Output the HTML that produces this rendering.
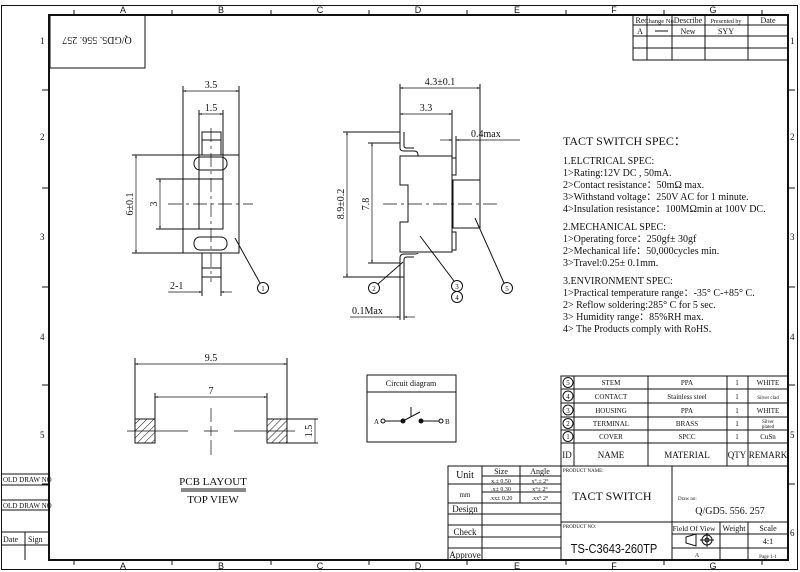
<!DOCTYPE html>
<html><head><meta charset="utf-8"><style>
html,body{margin:0;padding:0;background:#fff}
svg{display:block}
text{font-family:"Liberation Serif",serif;fill:#111}
.m{font-family:"Liberation Mono",monospace}
.s{font-family:"Liberation Sans",sans-serif}
</style></head><body>
<svg width="800" height="572" viewBox="0 0 800 572" xmlns="http://www.w3.org/2000/svg">
<defs>
<marker id="a" viewBox="0 0 10 10" refX="10" refY="5" markerWidth="6" markerHeight="4" orient="auto-start-reverse"><path d="M0,2 L10,5 L0,8 Z" fill="#111"/></marker>
<pattern id="h" width="5" height="5" patternUnits="userSpaceOnUse" patternTransform="rotate(45)"><line x1="0" y1="0" x2="0" y2="5" stroke="#111" stroke-width="1"/></pattern>
</defs>
<g fill="none" stroke="#111">
<!-- outer frame -->
<rect x="1.5" y="5.5" width="796" height="564" stroke-width="1"/>
<rect x="49" y="15" width="739" height="545" stroke-width="2"/>
<!-- ticks top/bottom -->
<g stroke-width="1">
<path d="M74 10V15M172 10V15M271 10V15M369 10V15M467 10V15M566 10V15M664 10V15M762 10V15"/>
<path d="M74 560V565M172 560V565M271 560V565M369 560V565M467 560V565M566 560V565M664 560V565M762 560V565"/>
<path d="M788 90H795M788 188H795M788 287H795M788 385H795M788 484H795"/>
<path d="M42 90H49M42 188H49M42 287H49M42 385H49M42 484H49"/>
</g>
<!-- top-left box -->
<rect x="50" y="15" width="95" height="53" stroke-width="1"/>
<!-- revision table -->
<g stroke-width="1">
<rect x="633" y="15" width="155" height="45"/>
<path d="M633 25H788M633 36H788M633 48H788"/>
<path d="M647 15V60M672 15V60M705 15V60M748 15V60"/>
<path d="M655 31H668"/>
</g>
<!-- left side panel -->
<g stroke-width="1">
<path d="M1 474H49M1 485H49M1 500H49M1 510H49M1 532H49M1 545H49M25 532V560"/>
</g>

<!-- FRONT VIEW -->
<g stroke-width="1">
<rect x="183" y="155" width="56" height="98"/>
<rect x="202" y="132" width="19" height="23"/>
<path d="M202 140H221"/>
<rect x="202" y="253" width="19" height="24"/>
<path d="M202 268H221"/>
<rect x="199" y="179" width="24" height="50"/>
<rect x="194" y="157" width="33" height="13" rx="6"/>
<rect x="194" y="237" width="33" height="13" rx="6"/>
<path d="M168 204H253" stroke-dasharray="14 4 3 4" stroke-width="0.7"/>
<path d="M211 128V282" stroke-dasharray="14 4 3 4" stroke-width="0.7"/>
<!-- dims -->
<path d="M183 155V86M239 155V86"/>
<path d="M183 91H239" marker-start="url(#a)" marker-end="url(#a)" stroke-width="0.7"/>
<path d="M199 179V110M223 179V110"/>
<path d="M199 114H223" marker-start="url(#a)" marker-end="url(#a)" stroke-width="0.7"/>
<path d="M183 155H132M183 253H132"/>
<path d="M136 155V253" marker-start="url(#a)" marker-end="url(#a)" stroke-width="0.7"/>
<path d="M199 179H156M199 229H156"/>
<path d="M160 179V229" marker-start="url(#a)" marker-end="url(#a)" stroke-width="0.7"/>
<path d="M202 277V296M221 277V296"/>
<path d="M168 292H202" marker-end="url(#a)" stroke-width="0.7"/>
<path d="M232 292H221" marker-end="url(#a)" stroke-width="0.7"/>
<path d="M235 238L260 283"/>
<circle cx="263" cy="288" r="5.5"/>
</g>

<!-- SIDE VIEW -->
<g stroke-width="1">
<path d="M400 156H452V252H400V222H408V185H400Z"/>
<path d="M452 156V252M452 158H456V175H452M452 232H456V250H452"/>
<rect x="453" y="180" width="27" height="48"/>
<path d="M400 132V148Q400 151 404 151H414Q418 151 418 155V156M404 132V146Q404 148 407 148H414"/>
<path d="M400 277V258Q400 254 404 254H414Q418 254 418 253M404 277V260Q404 257 407 257H414"/>
<path d="M383 204H500" stroke-dasharray="14 4 3 4" stroke-width="0.7"/>
<!-- dims -->
<path d="M400 132V84M480 180V84"/>
<path d="M400 88H480" marker-start="url(#a)" marker-end="url(#a)" stroke-width="0.7"/>
<path d="M452 156V110"/>
<path d="M400 114H452" marker-start="url(#a)" marker-end="url(#a)" stroke-width="0.7"/>
<path d="M456 158V136"/>
<path d="M440 140H452" marker-end="url(#a)" stroke-width="0.7"/>
<path d="M470 140H456" marker-end="url(#a)" stroke-width="0.7"/>
<path d="M456 140H520" stroke-width="0.7"/>
<path d="M400 132H343M404 277H343"/>
<path d="M347 132V277" marker-start="url(#a)" marker-end="url(#a)" stroke-width="0.7"/>
<path d="M400 143H368M400 263H368"/>
<path d="M372 143V263" marker-start="url(#a)" marker-end="url(#a)" stroke-width="0.7"/>
<path d="M400 277V320M404 277V320"/>
<path d="M350 317H400" marker-end="url(#a)" stroke-width="0.7"/>
<path d="M415 317H404" marker-end="url(#a)" stroke-width="0.7"/>
<path d="M403 262L378 284"/>
<circle cx="374" cy="288" r="5.5"/>
<path d="M420 236L454 281"/>
<circle cx="457" cy="286" r="5.5"/>
<circle cx="457" cy="297" r="5.5"/>
<path d="M475 218L504 283"/>
<circle cx="507" cy="288" r="5.5"/>
</g>

<!-- PCB LAYOUT -->
<g stroke-width="1">
<rect x="135" y="419" width="20" height="24" fill="url(#h)"/>
<rect x="267" y="419" width="20" height="24" fill="url(#h)"/>
<path d="M127 431H188M234 431H295" stroke-width="0.7"/>
<path d="M204 431H218M211 408V422M211 426V436M211 440V455" stroke-width="0.7"/>
<path d="M135 419V358M287 419V358"/>
<path d="M135 364H287" marker-start="url(#a)" marker-end="url(#a)" stroke-width="0.7"/>
<path d="M155 419V393M267 419V393"/>
<path d="M155 397H267" marker-start="url(#a)" marker-end="url(#a)" stroke-width="0.7"/>
<path d="M287 419H318M287 443H318"/>
<path d="M315 419V443" stroke-width="0.7"/>
<path d="M181 489H246M181 491H246"/>
</g>

<!-- circuit -->
<g stroke-width="1">
<rect x="367" y="375" width="89" height="67"/>
<path d="M367 392H456"/>
<circle cx="383" cy="421" r="2"/>
<path d="M385 421H403M403 421L420 412M411 407V417M421 421H439"/>
<circle cx="441" cy="421" r="2"/>
<circle cx="403" cy="421" r="2" fill="#111"/>
<circle cx="421" cy="421" r="2" fill="#111"/>
</g>

<!-- BOM -->
<g stroke-width="1">
<rect x="561" y="376" width="227" height="90"/>
<path d="M561 389H788M561 403H788M561 417H788M561 430H788M561 443H788"/>
<path d="M574 376V466M648 376V466M727 376V466M748 376V466"/>
<circle cx="568" cy="382.5" r="5"/><circle cx="568" cy="396" r="5"/><circle cx="568" cy="410" r="5"/><circle cx="568" cy="423.5" r="5"/><circle cx="568" cy="436.5" r="5"/>
</g>
<!-- title block -->
<g stroke-width="1">
<rect x="448" y="466" width="340" height="94"/>
<path d="M561 466V560M672 466V560"/>
<path d="M561 522H788M672 534H788M672 548H788M720 522V560M748 522V560"/>
<path d="M448 484H561M482 466V560M520 466V503M482 476H561M482 492H561M482 503H561"/>
<path d="M448 503H561M448 514H561M448 525H561M448 537H561M448 548H561"/>
<path d="M686 537L696 534V546L686 543Z"/>
<circle cx="707" cy="540" r="5"/><circle cx="707" cy="540" r="2"/><path d="M700 540H714M707 533V547"/>
</g>
</g>

<!-- text -->
<g font-size="10">
<text x="123" y="13" text-anchor="middle" class="s" font-size="9">A</text>
<text x="221" y="13" text-anchor="middle" class="s" font-size="9">B</text>
<text x="320" y="13" text-anchor="middle" class="s" font-size="9">C</text>
<text x="418" y="13" text-anchor="middle" class="s" font-size="9">D</text>
<text x="517" y="13" text-anchor="middle" class="s" font-size="9">E</text>
<text x="614" y="13" text-anchor="middle" class="s" font-size="9">F</text>
<text x="713" y="13" text-anchor="middle" class="s" font-size="9">G</text>
<text x="123" y="569" text-anchor="middle" class="s" font-size="9">A</text>
<text x="221" y="569" text-anchor="middle" class="s" font-size="9">B</text>
<text x="320" y="569" text-anchor="middle" class="s" font-size="9">C</text>
<text x="418" y="569" text-anchor="middle" class="s" font-size="9">D</text>
<text x="517" y="569" text-anchor="middle" class="s" font-size="9">E</text>
<text x="614" y="569" text-anchor="middle" class="s" font-size="9">F</text>
<text x="713" y="569" text-anchor="middle" class="s" font-size="9">G</text>
<g class="s" font-size="9"><text x="40" y="44">1</text><text x="40" y="140">2</text><text x="40" y="240">3</text><text x="40" y="340">4</text><text x="40" y="438">5</text>
<text x="790" y="44">1</text><text x="790" y="140">2</text><text x="790" y="240">3</text><text x="790" y="340">4</text><text x="790" y="438">5</text><text x="790" y="536">6</text></g>
<text transform="translate(97,37) rotate(180)" text-anchor="middle" font-size="10">Q/GD5. 556. 257</text>
<g font-size="8" text-anchor="middle"><text x="640" y="23">Re</text><text x="659" y="23" font-size="6.5">Change No</text><text x="688" y="23">Describe</text><text x="726" y="23" font-size="6">Presented by</text><text x="768" y="23">Date</text>
<text x="640" y="34">A</text><text x="688" y="34">New</text><text x="726" y="34">SYY</text></g>
<g font-size="7"><text x="3" y="482">OLD DRAW NO</text><text x="3" y="508">OLD DRAW NO</text><text x="3" y="542" font-size="8">Date</text><text x="28" y="542" font-size="8">Sign</text></g>

<g class="m" font-size="10">
<text x="211" y="88" text-anchor="middle">3.5</text>
<text x="211" y="111" text-anchor="middle">1.5</text>
<text transform="translate(133,204) rotate(-90)" text-anchor="middle">6±0.1</text>
<text transform="translate(157,204) rotate(-90)" text-anchor="middle">3</text>
<text x="170" y="289">2-1</text>
<text x="440" y="85" text-anchor="middle">4.3±0.1</text>
<text x="426" y="111" text-anchor="middle">3.3</text>
<text x="471" y="137">0.4max</text>
<text transform="translate(344,204) rotate(-90)" text-anchor="middle">8.9±0.2</text>
<text transform="translate(369,204) rotate(-90)" text-anchor="middle">7.8</text>
<text x="352" y="314">0.1Max</text>
<text x="211" y="361" text-anchor="middle">9.5</text>
<text x="211" y="394" text-anchor="middle">7</text>
<text transform="translate(312,431) rotate(-90)" text-anchor="middle">1.5</text>
</g>
<g font-size="7" text-anchor="middle" class="s"><text x="263" y="291">1</text><text x="374" y="291">2</text><text x="457" y="289">3</text><text x="457" y="300">4</text><text x="507" y="291">5</text>
<text x="568" y="385">5</text><text x="568" y="399">4</text><text x="568" y="413">3</text><text x="568" y="426">2</text><text x="568" y="439">1</text></g>
<text x="213" y="485" text-anchor="middle" font-size="11">PCB LAYOUT</text>
<text x="213" y="503" text-anchor="middle" font-size="11">TOP VIEW</text>
<text x="411" y="386" text-anchor="middle" font-size="8">Circuit diagram</text>
<text x="374" y="424" font-size="7">A</text><text x="445" y="424" font-size="7">B</text>

<g font-size="10">
<text x="563" y="145" font-size="12">TACT SWITCH SPEC：</text>
<text x="563" y="164">1.ELCTRICAL SPEC:</text>
<text x="563" y="176">1&gt;Rating:12V  DC , 50mA.</text>
<text x="563" y="188">2&gt;Contact resistance：50mΩ  max.</text>
<text x="563" y="200">3&gt;Withstand  voltage：250V AC for 1 minute.</text>
<text x="563" y="212">4&gt;Insulation  resistance：100MΩmin at 100V DC.</text>
<text x="563" y="230">2.MECHANICAL SPEC:</text>
<text x="563" y="242">1&gt;Operating force：250gf± 30gf</text>
<text x="563" y="254">2&gt;Mechanical life：50,000cycles min.</text>
<text x="563" y="266">3&gt;Travel:0.25± 0.1mm.</text>
<text x="563" y="284">3.ENVIRONMENT SPEC:</text>
<text x="563" y="296">1&gt;Practical temperature range：-35° C-+85° C.</text>
<text x="563" y="308">2&gt; Reflow soldering:285° C for 5 sec.</text>
<text x="563" y="320">3&gt; Humidity range：85%RH max.</text>
<text x="563" y="332">4&gt; The Products comply with RoHS.</text>
</g>

<g class="m" font-size="7" text-anchor="middle">
<text x="611" y="385">STEM</text><text x="687" y="385">PPA</text><text x="737" y="385">1</text><text x="768" y="385">WHITE</text>
<text x="611" y="399">CONTACT</text><text x="687" y="399">Stainless steel</text><text x="737" y="399">1</text><text x="768" y="399" font-size="5">Silver clad</text>
<text x="611" y="413">HOUSING</text><text x="687" y="413">PPA</text><text x="737" y="413">1</text><text x="768" y="413">WHITE</text>
<text x="611" y="426">TERMINAL</text><text x="687" y="426">BRASS</text><text x="737" y="426">1</text><text x="768" y="423" font-size="5">Silver</text><text x="768" y="428" font-size="5">plated</text>
<text x="611" y="439">COVER</text><text x="687" y="439">SPCC</text><text x="737" y="439">1</text><text x="768" y="439">CuSn</text>
<g font-size="9"><text x="567" y="458">ID</text><text x="611" y="458">NAME</text><text x="687" y="458">MATERIAL</text><text x="737" y="458">QTY</text><text x="768" y="458">REMARK</text></g>
</g>
<g font-size="9" text-anchor="middle">
<text x="465" y="478" font-size="10">Unit</text><text x="465" y="497" font-size="7">mm</text>
<text x="501" y="474" font-size="8">Size</text><text x="540" y="474" font-size="8">Angle</text>
<text x="501" y="483" font-size="6">x.±  0.50</text><text x="540" y="483" font-size="6">x°.±    2°</text>
<text x="501" y="491" font-size="6">.x±  0.30</text><text x="540" y="491" font-size="6">x°±    2°</text>
<text x="501" y="500" font-size="6">.xx± 0.20</text><text x="540" y="500" font-size="6">.xx°    2°</text>
<text x="465" y="512">Design</text><text x="465" y="535">Check</text><text x="465" y="558">Approve</text>
<text x="694" y="531" font-size="7.5">Field Of View</text><text x="734" y="531" font-size="8">Weight</text><text x="768" y="531" font-size="8">Scale</text>
<text x="768" y="544" font-size="8">4:1</text><text x="697" y="557" font-size="6">A</text><text x="768" y="558" font-size="5">Page 1-1</text>
</g>
<g class="m">
<text x="563" y="472" font-size="5">PRODUCT NAME:</text>
<text x="563" y="528" font-size="5">PRODUCT NO:</text>
<text x="678" y="500" font-size="5">Draw no:</text>
<text x="612" y="500" text-anchor="middle" font-size="12">TACT SWITCH</text>
<text x="730" y="514" text-anchor="middle" font-size="10">Q/GD5. 556. 257</text>
<text x="614" y="553" text-anchor="middle" font-size="13" class="s" transform="translate(614,0) scale(0.85,1) translate(-614,0)">TS-C3643-260TP</text>
</g>
</g>
</svg>
</body></html>
